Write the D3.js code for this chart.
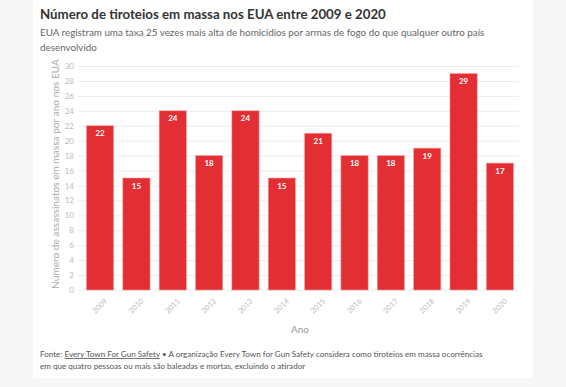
<!DOCTYPE html>
<html>
<head>
<meta charset="utf-8">
<script src="https://cdn.jsdelivr.net/npm/d3@7"></script>
<style>
  body { margin: 0; background: #f7f7f7; }
  svg { display: block; font-family: Lato, "Open Sans", sans-serif; }
</style>
</head>
<body>
<svg id="chart"></svg>
<script>
// data
const years = ["2009", "2010", "2011", "2012", "2013", "2014", "2015", "2016", "2017", "2018", "2019", "2020"];
const shootings = [22, 15, 24, 18, 24, 15, 21, 18, 18, 19, 29, 17];
const yTicks = d3.range(0, 31, 2);

const width = 566, height = 387;

const svg = d3.select("#chart").attr("width", width).attr("height", height);

// white card
svg.append("rect")
  .attr("x", 33).attr("y", 0)
  .attr("width", 500).attr("height", 378)
  .attr("fill", "#fff");

// shrink text to a target width if it runs over
function fit(sel, w) {
  const len = sel.node().getComputedTextLength();
  if (len > w) {
    const fs = parseFloat(sel.attr("font-size"));
    sel.attr("font-size", (fs * w / len).toFixed(2));
  }
}

// title + subtitle
const title = svg.append("text")
  .attr("x", 40).attr("y", 19)
  .attr("font-size", 16).attr("font-weight", "bold")
  .attr("fill", "#333")
  .text("Número de tiroteios em massa nos EUA entre 2009 e 2020");
fit(title, 346);

const sub1 = svg.append("text")
  .attr("x", 40).attr("y", 36)
  .attr("font-size", 12).attr("fill", "#666")
  .text("EUA registram uma taxa 25 vezes mais alta de homicídios por armas de fogo do que qualquer outro país");
fit(sub1, 445);
svg.append("text")
  .attr("x", 40).attr("y", 51)
  .attr("font-size", sub1.attr("font-size")).attr("fill", "#666")
  .text("desenvolvido");

// scales
const x = d3.scaleBand()
  .domain(years)
  .range([81, 519])
  .paddingInner(0.25)
  .paddingOuter(0.15);

const y = d3.scaleLinear()
  .domain([0, 30])
  .range([290, 66]);

// gridlines + y labels
const yAxis = svg.append("g")
  .attr("transform", "translate(78,0)")
  .call(d3.axisLeft(y).tickValues(yTicks).tickSize(-441).tickPadding(4));
yAxis.select(".domain").remove();
yAxis.selectAll(".tick line").attr("stroke", "#ececec");
yAxis.selectAll(".tick text")
  .attr("fill", "#bbb")
  .attr("font-size", 8)
  .attr("font-family", "Lato, sans-serif");

// bars
svg.selectAll(".bar")
  .data(shootings)
  .enter()
  .append("rect")
  .attr("class", "bar")
  .attr("x", (d, i) => x(years[i]))
  .attr("y", (d) => y(d))
  .attr("width", x.bandwidth())
  .attr("height", (d) => y(0) - y(d))
  .attr("fill", "#e32e33")
  .attr("stroke", "#f3a5a5")
  .attr("stroke-width", 0.6);

// value labels
svg.selectAll(".val")
  .data(shootings)
  .enter()
  .append("text")
  .attr("class", "val")
  .attr("x", (d, i) => x(years[i]) + x.bandwidth() / 2)
  .attr("y", (d) => y(d) + 10.5)
  .attr("text-anchor", "middle")
  .attr("font-size", 8)
  .attr("font-weight", "bold")
  .attr("fill", "#fff")
  .text((d) => d);

// x labels
svg.selectAll(".xl")
  .data(years)
  .enter()
  .append("text")
  .attr("class", "xl")
  .attr("transform", (d) => "translate(" + (x(d) + x.bandwidth() / 2 + 4) + ",298) rotate(-45)")
  .attr("text-anchor", "end")
  .attr("dy", "0.7em")
  .attr("font-size", 7.5)
  .attr("fill", "#bbb")
  .text((d) => d);

// axis titles
svg.append("text")
  .attr("x", 300).attr("y", 333)
  .attr("text-anchor", "middle")
  .attr("font-size", 10)
  .attr("fill", "#999")
  .text("Ano");

const yt = svg.append("text")
  .attr("transform", "translate(59,174) rotate(-90)")
  .attr("text-anchor", "middle")
  .attr("font-size", 11)
  .attr("fill", "#aaa")
  .text("Número de assassinatos em massa por ano nos EUA");
fit(yt, 230);

// footer
const foot = svg.append("text")
  .attr("x", 40).attr("y", 357)
  .attr("font-size", 9.5)
  .attr("fill", "#555");
foot.append("tspan").text("Fonte: ");
foot.append("tspan").attr("text-decoration", "underline").text("Every Town For Gun Safety");
foot.append("tspan").text(" • A organização Every Town for Gun Safety considera como tiroteios em massa ocorrências");
fit(foot, 443);
svg.append("text")
  .attr("x", 40).attr("y", 369)
  .attr("font-size", foot.attr("font-size"))
  .attr("fill", "#555")
  .text("em que quatro pessoas ou mais são baleadas e mortas, excluindo o atirador");
</script>
</body>
</html>
